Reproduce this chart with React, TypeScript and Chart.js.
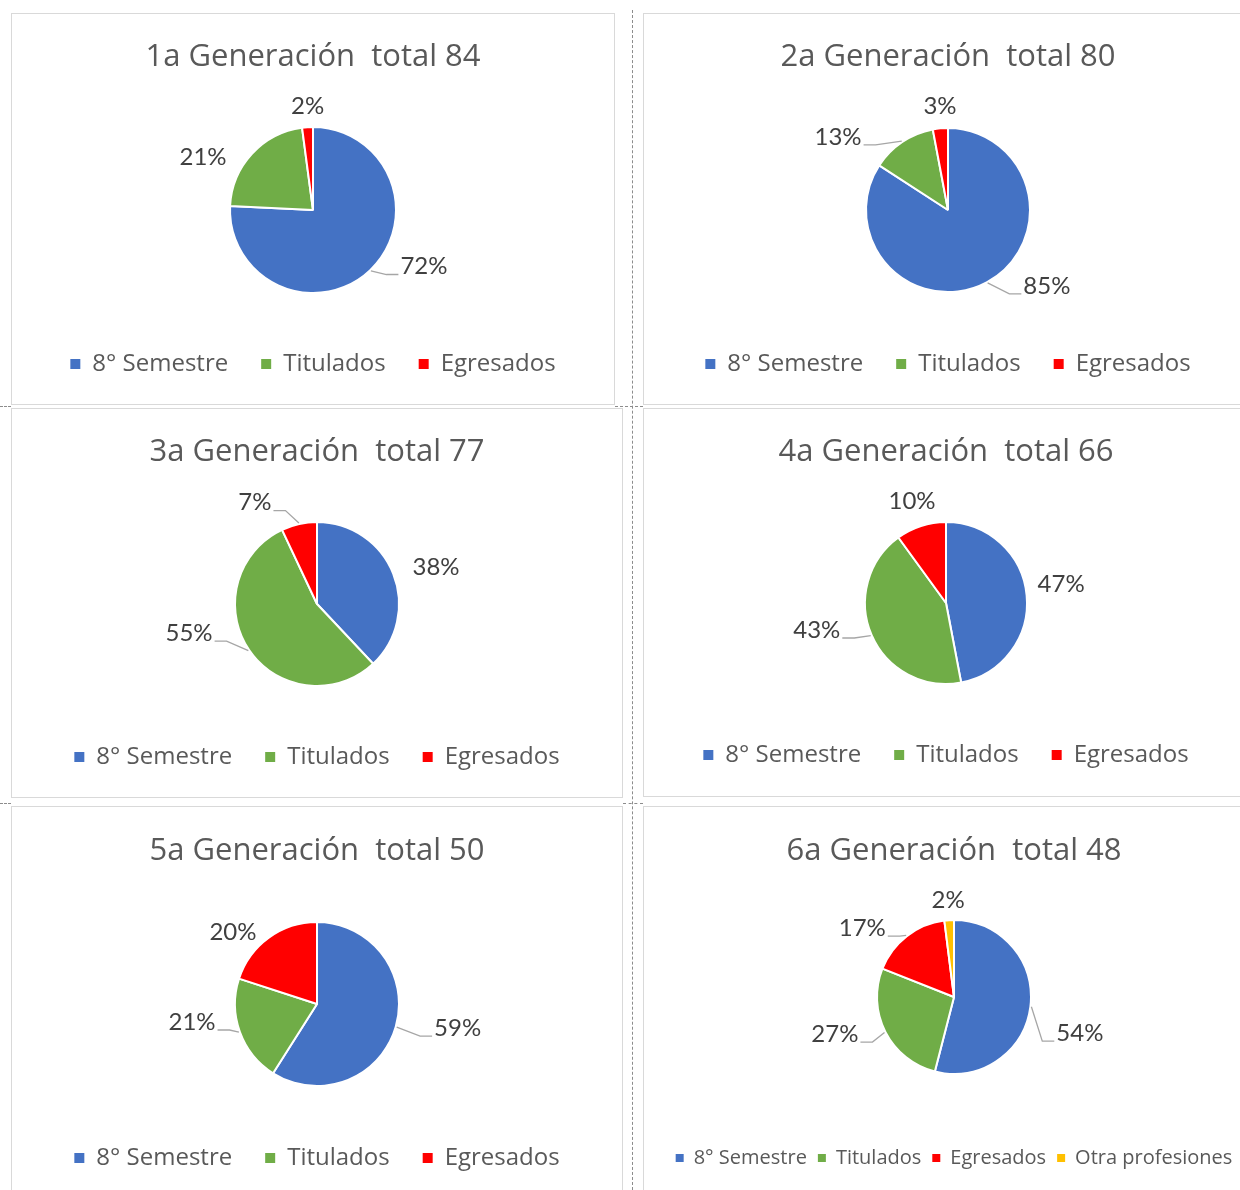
import React, { useEffect, useRef } from 'react';
import { Chart, registerables } from 'chart.js';

Chart.register(...registerables);

const FONT = 'Lato, "Noto Sans", sans-serif';
const FONT_WIDE = '"Open Sans", "Noto Sans", sans-serif';
const COLORS = ['#4472C4', '#70AD47', '#FF0000', '#FFC000'];

// ---- data ----
const categories3 = ['8° Semestre', 'Titulados', 'Egresados'];
const categories4 = ['8° Semestre', 'Titulados', 'Egresados', 'Otra profesiones'];
const titles = [
  '1a Generación  total 84',
  '2a Generación  total 80',
  '3a Generación  total 77',
  '4a Generación  total 66',
  '5a Generación  total 50',
  '6a Generación  total 48',
];
const gen1 = [72, 21, 2];
const gen2 = [85, 13, 3];
const gen3 = [38, 55, 7];
const gen4 = [47, 43, 10];
const gen5 = [59, 21, 20];
const gen6 = [54, 27, 17, 2];

// ---- label placement (polar: angle from 12 o'clock clockwise, distance in radii) ----
type LabelSpec = { a: number; d: number; leader?: boolean };
const labels1: LabelSpec[] = [{ a: 117, d: 1.5, leader: true }, { a: 295.7, d: 1.47 }, { a: 357, d: 1.25 }];
const labels2: LabelSpec[] = [{ a: 127.5, d: 1.52, leader: true }, { a: 303.6, d: 1.61, leader: true }, { a: 355.6, d: 1.27 }];
const labels3: LabelSpec[] = [{ a: 72.7, d: 1.52 }, { a: 257.2, d: 1.6, leader: true }, { a: 328.5, d: 1.45, leader: true }];
const labels4: LabelSpec[] = [{ a: 80.6, d: 1.44 }, { a: 258.2, d: 1.63, leader: true }, { a: 341.6, d: 1.33 }];
const labels5: LabelSpec[] = [{ a: 99.7, d: 1.74, leader: true }, { a: 261.8, d: 1.54, leader: true }, { a: 310.6, d: 1.35 }];
const labels6: LabelSpec[] = [
  { a: 106, d: 1.7, leader: true },
  { a: 252.7, d: 1.62, leader: true },
  { a: 306.9, d: 1.49, leader: true },
  { a: 356.5, d: 1.26 },
];

type Panel = {
  title: string;
  cats: string[];
  values: number[];
  labels: LabelSpec[];
  box: { left: number; top: number; width: number; height: number };
  cx: number; // pie centre x (page)
  yT: number; // title centre y
  yC: number; // pie centre y
  yL: number; // legend centre y
  r: number;
  legendFont: number;
  legendPad: number;
  legendBox: number;
};

const panels: Panel[] = [
  { title: titles[0], cats: categories3, values: gen1, labels: labels1, box: { left: 11, top: 13, width: 604, height: 392 }, cx: 313, yT: 57, yC: 210, yL: 364, r: 83, legendFont: 24, legendPad: 33, legendBox: 10 },
  { title: titles[1], cats: categories3, values: gen2, labels: labels2, box: { left: 643, top: 13, width: 610, height: 392 }, cx: 948, yT: 57, yC: 210, yL: 364, r: 82, legendFont: 24, legendPad: 33, legendBox: 10 },
  { title: titles[2], cats: categories3, values: gen3, labels: labels3, box: { left: 11, top: 408, width: 612, height: 390 }, cx: 317, yT: 452, yC: 604, yL: 757, r: 82, legendFont: 24, legendPad: 33, legendBox: 10 },
  { title: titles[3], cats: categories3, values: gen4, labels: labels4, box: { left: 643, top: 408, width: 610, height: 389 }, cx: 946, yT: 452, yC: 603, yL: 755, r: 81, legendFont: 24, legendPad: 33, legendBox: 10 },
  { title: titles[4], cats: categories3, values: gen5, labels: labels5, box: { left: 11, top: 806, width: 612, height: 400 }, cx: 317, yT: 851, yC: 1004, yL: 1158, r: 82, legendFont: 24, legendPad: 33, legendBox: 10 },
  { title: titles[5], cats: categories4, values: gen6, labels: labels6, box: { left: 643, top: 806, width: 640, height: 400 }, cx: 954, yT: 851, yC: 997, yL: 1158, r: 77, legendFont: 20, legendPad: 11, legendBox: 8 },
];

const TITLE_SIZE = 31;
const LABEL_SIZE = 24;
const CANVAS_H = 384;

const pieLabelPlugin = {
  id: 'pieLabels',
  afterDatasetsDraw(chart: any, _args: any, opts: any) {
    const specs: LabelSpec[] = opts.specs || [];
    const { ctx } = chart;
    const meta = chart.getDatasetMeta(0);
    const values = chart.data.datasets[0].data as number[];
    ctx.save();
    ctx.font = `${LABEL_SIZE}px ${FONT}`;
    ctx.textAlign = 'center';
    ctx.textBaseline = 'middle';
    meta.data.forEach((arc: any, i: number) => {
      const s = specs[i];
      if (!s) return;
      const { x, y, startAngle, endAngle, outerRadius } = arc.getProps(
        ['x', 'y', 'startAngle', 'endAngle', 'outerRadius'],
        true
      );
      const ang = ((s.a - 90) * Math.PI) / 180;
      const lx = x + Math.cos(ang) * s.d * outerRadius;
      const ly = y + Math.sin(ang) * s.d * outerRadius;
      const text = `${values[i]}%`;
      if (s.leader) {
        const mid = (startAngle + endAngle) / 2;
        const ex = x + Math.cos(mid) * (outerRadius + 1);
        const ey = y + Math.sin(mid) * (outerRadius + 1);
        const w = ctx.measureText(text).width;
        const toward = lx > x ? -1 : 1;
        const ax = lx + toward * (w / 2 + 2);
        const ay = ly + 8;
        const bx = ax + toward * 12;
        ctx.beginPath();
        ctx.strokeStyle = '#a6a6a6';
        ctx.lineWidth = 1.3;
        ctx.moveTo(ax, ay);
        ctx.lineTo(bx, ay);
        ctx.lineTo(ex, ey);
        ctx.stroke();
      }
      ctx.fillStyle = '#404040';
      ctx.fillText(text, lx, ly);
    });
    ctx.restore();
  },
};

function PieChart({ p }: { p: Panel }) {
  const ref = useRef<HTMLCanvasElement | null>(null);
  const canvasLeft = p.box.left;
  const W = 2 * (p.cx - p.box.left);
  const H = CANVAS_H;
  const T = p.box.top;

  useEffect(() => {
    if (!ref.current) return;
    const titleLH = TITLE_SIZE * 1.2;
    const pt = p.yT - T - titleLH / 2;
    const fs = p.legendFont;
    const padBottom = H - 10 - fs / 2 - (p.yL - T);
    const legendH = fs + p.legendPad + 10;
    const bottom = H - padBottom - legendH;
    const top = 2 * (p.yC - T) - bottom;
    const pb = top - pt - titleLH;

    const chart = new Chart(ref.current, {
      type: 'pie',
      data: {
        labels: p.cats,
        datasets: [
          {
            data: p.values,
            backgroundColor: COLORS.slice(0, p.values.length),
            borderColor: '#ffffff',
            borderWidth: 2,
            radius: p.r,
            hoverOffset: 0,
          } as any,
        ],
      },
      options: {
        responsive: false,
        animation: false,
        layout: { padding: { top: 0, bottom: padBottom, left: 0, right: 0 } },
        plugins: {
          tooltip: { enabled: false },
          title: {
            display: true,
            text: p.title,
            color: '#595959',
            font: { family: FONT_WIDE, size: TITLE_SIZE, weight: 'normal' as any, lineHeight: 1.2 },
            padding: { top: pt, bottom: pb },
          },
          legend: {
            display: true,
            position: 'bottom',
            labels: {
              color: '#595959',
              font: { family: FONT_WIDE, size: fs },
              boxWidth: p.legendBox,
              boxHeight: p.legendBox,
              padding: p.legendPad,
              generateLabels: (c: any) =>
                (c.data.labels as string[]).map((t, i) => ({
                  text: t,
                  fillStyle: COLORS[i],
                  strokeStyle: COLORS[i],
                  lineWidth: 0,
                  hidden: false,
                  index: i,
                  fontColor: '#595959',
                })),
            },
          },
          pieLabels: { specs: p.labels },
        } as any,
      },
      plugins: [pieLabelPlugin as any],
    });
    return () => chart.destroy();
  }, []);

  return (
    <canvas
      ref={ref}
      width={W}
      height={H}
      style={{ position: 'absolute', left: canvasLeft, top: T, width: W, height: H }}
    />
  );
}

export default function App() {
  return (
    <div
      style={{
        position: 'absolute',
        left: 0,
        top: 0,
        width: 1240,
        height: 1190,
        overflow: 'hidden',
        background: '#ffffff',
      }}
    >
      {/* dashed guides */}
      <div style={{ position: 'absolute', left: 632, top: 10, width: 0, height: 1180, borderLeft: '1px dashed #8c8c8c' }} />
      <div style={{ position: 'absolute', left: 0, top: 406, width: 11, height: 0, borderTop: '1px dashed #8c8c8c' }} />
      <div style={{ position: 'absolute', left: 615, top: 406, width: 28, height: 0, borderTop: '1px dashed #8c8c8c' }} />
      <div style={{ position: 'absolute', left: 0, top: 803, width: 11, height: 0, borderTop: '1px dashed #8c8c8c' }} />
      <div style={{ position: 'absolute', left: 623, top: 803, width: 20, height: 0, borderTop: '1px dashed #8c8c8c' }} />
      {panels.map((p, i) => (
        <div
          key={'b' + i}
          style={{
            position: 'absolute',
            left: p.box.left,
            top: p.box.top,
            width: p.box.width,
            height: p.box.height,
            border: '1px solid #d9d9d9',
            boxSizing: 'border-box',
          }}
        />
      ))}
      {panels.map((p, i) => (
        <PieChart key={i} p={p} />
      ))}
    </div>
  );
}
